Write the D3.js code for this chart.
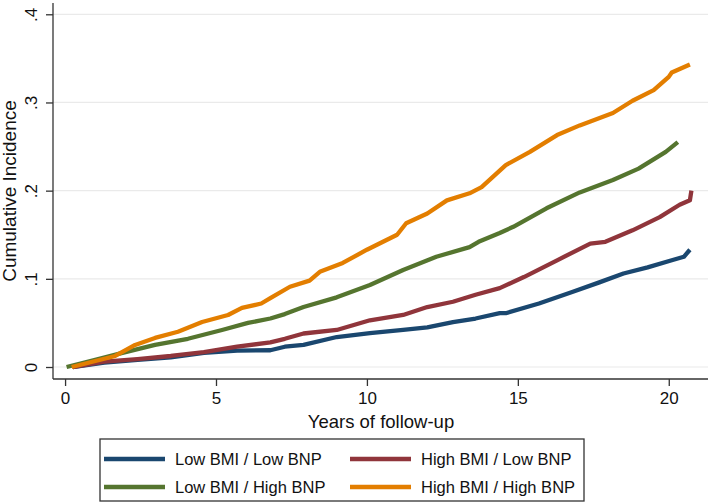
<!DOCTYPE html>
<html><head><meta charset="utf-8">
<script src="https://cdn.jsdelivr.net/npm/d3@7"></script>
<style>body{margin:0;background:#fff;} svg{display:block;font-family:"Liberation Sans",Arial,sans-serif;}</style>
</head><body><svg id="c" width="709" height="503"></svg>
<script>
const seriesNames = ["Low BMI / Low BNP","High BMI / Low BNP","Low BMI / High BNP","High BMI / High BNP"];
const seriesColors = ["#1a476f","#90353b","#55752f","#e37e00"];
const xTicks = [0,5,10,15,20];
const yTicks = [0,0.1,0.2,0.3,0.4];
const yTickLabels = ["0",".1",".2",".3",".4"];
// [years, cumulative incidence]
const lowLow = [[0.25,0],[1.3,0.005],[2.4,0.008],[3.5,0.011],[4.6,0.016],[5.7,0.0185],[6.8,0.019],[7.28,0.023],[7.9,0.025],[9.0,0.034],[10.1,0.0385],[11.2,0.042],[12.0,0.045],[12.85,0.051],[13.6,0.055],[14.4,0.061],[14.6,0.061],[15.7,0.072],[16.8,0.085],[17.7,0.096],[18.5,0.106],[19.3,0.113],[20.1,0.121],[20.5,0.125],[20.7,0.133]];
const highLow = [[0.25,0],[1.3,0.006],[2.4,0.009],[3.5,0.0125],[4.6,0.017],[5.7,0.023],[6.8,0.028],[7.28,0.032],[7.9,0.038],[9.0,0.042],[10.1,0.053],[11.2,0.059],[12.0,0.068],[12.85,0.074],[13.6,0.082],[14.4,0.0895],[15.2,0.102],[16.3,0.121],[17.4,0.140],[17.9,0.142],[18.8,0.155],[19.7,0.170],[20.36,0.184],[20.7,0.189],[20.75,0.2]];
const lowHigh = [[0.05,0],[1.0,0.008],[1.9,0.016],[2.98,0.025],[4.07,0.032],[5.2,0.042],[6.06,0.050],[6.8,0.055],[7.28,0.060],[7.9,0.068],[9.0,0.079],[10.1,0.093],[11.2,0.110],[12.3,0.125],[13.4,0.136],[13.7,0.142],[14.4,0.152],[14.85,0.159],[15.95,0.180],[17.05,0.198],[18.15,0.212],[19.0,0.225],[19.9,0.244],[20.3,0.255]];
const highHigh = [[0.22,0],[1.66,0.0125],[2.32,0.025],[2.98,0.033],[3.74,0.040],[4.54,0.051],[5.4,0.059],[5.86,0.067],[6.5,0.072],[6.8,0.078],[7.45,0.091],[8.1,0.098],[8.44,0.108],[9.2,0.118],[10.0,0.133],[11.0,0.150],[11.3,0.163],[12.0,0.174],[12.65,0.189],[13.4,0.197],[13.8,0.204],[14.6,0.229],[15.4,0.244],[16.3,0.263],[17.05,0.274],[18.15,0.288],[18.8,0.302],[19.5,0.314],[20.0,0.329],[20.1,0.334],[20.7,0.343]];
const seriesData = [lowLow, highLow, lowHigh, highHigh];

const svg = d3.select("#c");
const L = 53, R = 708, T = 3, B = 379;
const x = d3.scaleLinear().domain([-0.4, 21.3]).range([L, R]);
const y = d3.scaleLinear().domain([-0.0136, 0.4128]).range([B, T]);

// gridlines
svg.append("g").selectAll("line").data(yTicks).join("line")
  .attr("x1", L).attr("x2", R).attr("y1", d=>y(d)).attr("y2", d=>y(d))
  .attr("stroke", "#eaeaea").attr("stroke-width", 1.2);

// y axis
const yAxis = d3.axisLeft(y).tickValues(yTicks).tickSize(7).tickFormat((d,i)=>yTickLabels[i]);
const gy = svg.append("g").attr("transform", `translate(${L},0)`).call(yAxis);
gy.select(".domain").attr("d", `M0,${T}V${B}`).attr("stroke","#333").attr("stroke-width",1.3);
gy.selectAll(".tick line").attr("stroke","#333").attr("stroke-width",1.3);
gy.selectAll(".tick text").attr("font-size",17).attr("fill","#111")
  .attr("transform","rotate(-90)").attr("x",0).attr("y",-16).attr("dy",0)
  .attr("text-anchor","middle");

// x axis
const xAxis = d3.axisBottom(x).tickValues(xTicks).tickSize(7);
const gx = svg.append("g").attr("transform", `translate(0,${B})`).call(xAxis);
gx.select(".domain").attr("d", `M${L},0H${R}`).attr("stroke","#333").attr("stroke-width",1.3);
gx.selectAll(".tick line").attr("stroke","#333").attr("stroke-width",1.3);
gx.selectAll(".tick text").attr("font-size",17).attr("fill","#111").attr("y",13).attr("dy","0.71em");

// lines
const line = d3.line().x(d=>x(d[0])).y(d=>y(d[1]));
svg.append("g").selectAll("path").data(seriesData).join("path")
  .attr("d", line).attr("fill","none")
  .attr("stroke",(d,i)=>seriesColors[i]).attr("stroke-width",4.3).attr("stroke-linejoin","round");

// axis titles
svg.append("text").attr("x", 381).attr("y", 428).attr("text-anchor","middle")
  .attr("font-size",18.5).attr("fill","#111").text("Years of follow-up");
svg.append("text").attr("transform","translate(15.5,191) rotate(-90)").attr("text-anchor","middle")
  .attr("font-size",19).attr("fill","#111").text("Cumulative Incidence");

// legend
const lg = svg.append("g");
lg.append("rect").attr("x",100).attr("y",439).attr("width",484).attr("height",62)
  .attr("fill","#fff").attr("stroke","#333").attr("stroke-width",1.3);
const legPos = [[104,459],[350,459],[104,487],[350,487]];
seriesNames.forEach((n,i)=>{
  const [lx,ly] = legPos[i];
  lg.append("line").attr("x1",lx).attr("x2",lx+61).attr("y1",ly).attr("y2",ly)
    .attr("stroke",seriesColors[i]).attr("stroke-width",4.3);
  lg.append("text").attr("x",lx+71).attr("y",ly+6).attr("font-size",16.5).attr("fill","#111").text(n);
});
</script></body></html>
